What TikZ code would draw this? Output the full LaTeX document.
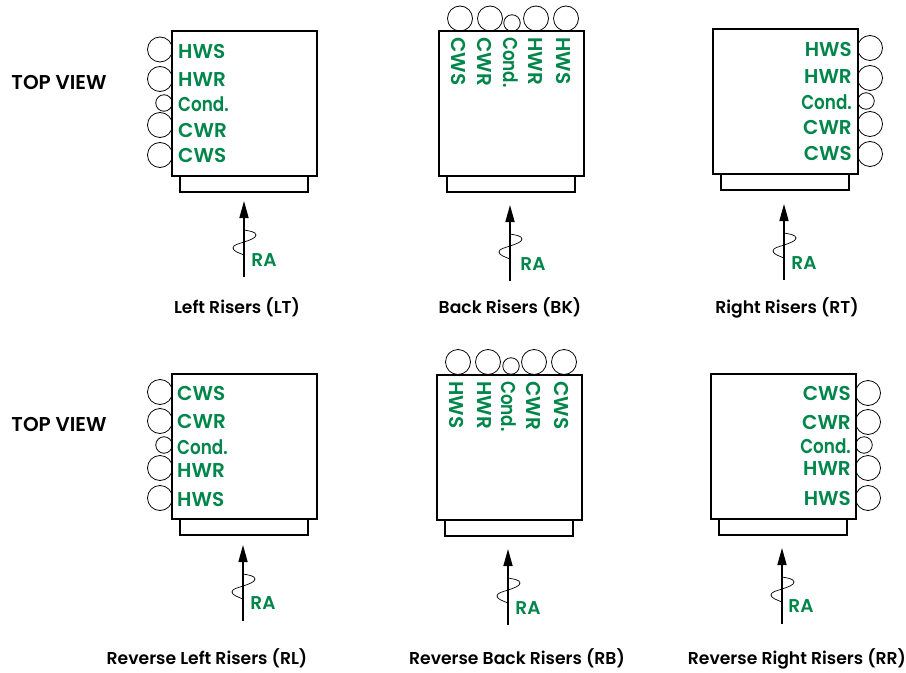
\documentclass[tikz,border=0pt]{standalone}
\usepackage{fontspec}
\setmainfont{Poppins}[BoldFont=* SemiBold]
\usetikzlibrary{arrows.meta,calc}
\definecolor{lbl}{HTML}{00854A}
\tikzset{
  unitbox/.style={draw,line width=1.3pt,fill=white,outer sep=0pt,inner sep=0pt},
  riser/.style={draw,circle,line width=0.8pt,inner sep=0pt,minimum size=25bp,outer sep=0pt},
  smallriser/.style={riser,minimum size=16.5bp},
  tag/.style={text=lbl,font=\fontsize{20bp}{20bp}\selectfont\bfseries,inner sep=0pt},
  ratag/.style={text=lbl,font=\fontsize{18.5bp}{20bp}\selectfont\bfseries,inner sep=0pt},
  heading/.style={font=\fontsize{17.2bp}{20bp}\selectfont\bfseries,inner sep=0pt,anchor=base},
  viewtag/.style={font=\fontsize{20bp}{20bp}\selectfont\bfseries,inner sep=0pt},
  airflow/.style={line width=1.6pt,-{Triangle[length=17bp,width=9bp]}},
  wave/.style={line width=0.7pt},
}
\newcommand{\cnd}{\scalebox{.84}[1]{Cond.}}
\newcommand{\unit}[9]{%
  \node[unitbox,anchor=north west,minimum width=145bp,minimum height=145bp] (#1box) at (#2,#3) {};
  \node[unitbox,anchor=north,minimum width=128bp,minimum height=16bp] (#1plate) at ([xshift=-0.5bp]#1box.south) {};
  \coordinate (#1a) at (#4,#5+76);
  \coordinate (#1b) at (#4,#5);
  \draw[airflow] (#1a) -- (#1b);
  \draw[wave,shift={(#1a)}] (0,-47) .. controls (6,-46) and (12,-45) .. (12,-42)
     .. controls (12,-39) and (6,-37) .. (0,-35)
     .. controls (-6,-33) and (-11,-32) .. (-11,-29)
     .. controls (-11,-26) and (-5,-24) .. (0,-22);
  \node[ratag] (#1ra) at (#6,#7) {RA};
  \node[heading] at (#8,#9)}
\begin{document}
\begin{tikzpicture}[x=1bp,y=-1bp]
\useasboundingbox (0,0) rectangle (906,673);
\node[viewtag] (tv1) at (59,82) {TOP VIEW};
\node[viewtag] (tv2) at (59,424) {TOP VIEW};

% Left risers
\unit{lt}{172}{31}{244}{201}{264}{260}{237}{313} (lttitle) {Left Risers (LT)};
\foreach \n/\xx/\yy/\s in {a/160/49.5/riser,b/160/79/riser,c/164/103/smallriser,d/160/125/riser,e/160/155/riser}
  \node[\s] (lt\n) at (\xx,\yy) {};
\foreach \n/\t/\yy in {f/HWS/51,g/HWR/80,h/\cnd/104,i/CWR/130,j/CWS/155}
  \node[tag,anchor=west] (lt\n) at (178,\yy) {\t};

% Back risers
\unit{bk}{439}{31}{510}{205}{533}{264}{510}{313} (bktitle) {Back Risers (BK)};
\foreach \n/\xx/\yy/\s in {a/460/18.5/riser,b/490/18.5/riser,c/512/23/smallriser,d/536/18.5/riser,e/566/18.5/riser}
  \node[\s] (bk\n) at (\xx,\yy) {};
\foreach \n/\t/\xx in {f/CWS/459,g/CWR/485,h/\cnd/511,i/HWR/535,j/HWS/564}
  \node[tag,rotate=-90,anchor=west] (bk\n) at (\xx,37) {\t};

% Right risers
\unit{rt}{713}{29}{784}{204}{804}{263}{787}{313} (rttitle) {Right Risers (RT)};
\foreach \n/\xx/\yy/\s in {a/870/48/riser,b/870/78/riser,c/866/101/smallriser,d/870/124/riser,e/870/154/riser}
  \node[\s] (rt\n) at (\xx,\yy) {};
\foreach \n/\t/\yy in {f/HWS/49,g/HWR/77,h/\cnd/102,i/CWR/127,j/CWS/153}
  \node[tag,anchor=east] (rt\n) at (852,\yy) {\t};

% Reverse left
\unit{rl}{172}{374}{243}{545}{263}{603}{207}{664} (rltitle) {Reverse Left Risers (RL)};
\foreach \n/\xx/\yy/\s in {a/160/392/riser,b/160/421/riser,c/164/445/smallriser,d/160/468/riser,e/160/498/riser}
  \node[\s] (rl\n) at (\xx,\yy) {};
\foreach \n/\t/\yy in {f/CWS/393,g/CWR/421,h/\cnd/447,i/HWR/471,j/HWS/499}
  \node[tag,anchor=west] (rl\n) at (177,\yy) {\t};

% Reverse back
\unit{rb}{437}{375}{508}{549}{528}{608}{517}{664} (rbtitle) {Reverse Back Risers (RB)};
\foreach \n/\xx/\yy/\s in {a/458/362/riser,b/488/362/riser,c/511/366/smallriser,d/534/362/riser,e/564/362/riser}
  \node[\s] (rb\n) at (\xx,\yy) {};
\foreach \n/\t/\xx in {f/HWS/457,g/HWR/484,h/\cnd/509,i/CWR/534,j/CWS/562}
  \node[tag,rotate=-90,anchor=west] (rb\n) at (\xx,381) {\t};

% Reverse right
\unit{rr}{711}{374}{782}{548}{801}{606}{797}{664} (rrtitle) {Reverse Right Risers (RR)};
\foreach \n/\xx/\yy/\s in {a/868/393/riser,b/868/422/riser,c/864/445/smallriser,d/868/468/riser,e/868/498/riser}
  \node[\s] (rr\n) at (\xx,\yy) {};
\foreach \n/\t/\yy in {f/CWS/393,g/CWR/422,h/\cnd/446,i/HWR/469,j/HWS/498}
  \node[tag,anchor=east] (rr\n) at (851,\yy) {\t};
\end{tikzpicture}
\end{document}
